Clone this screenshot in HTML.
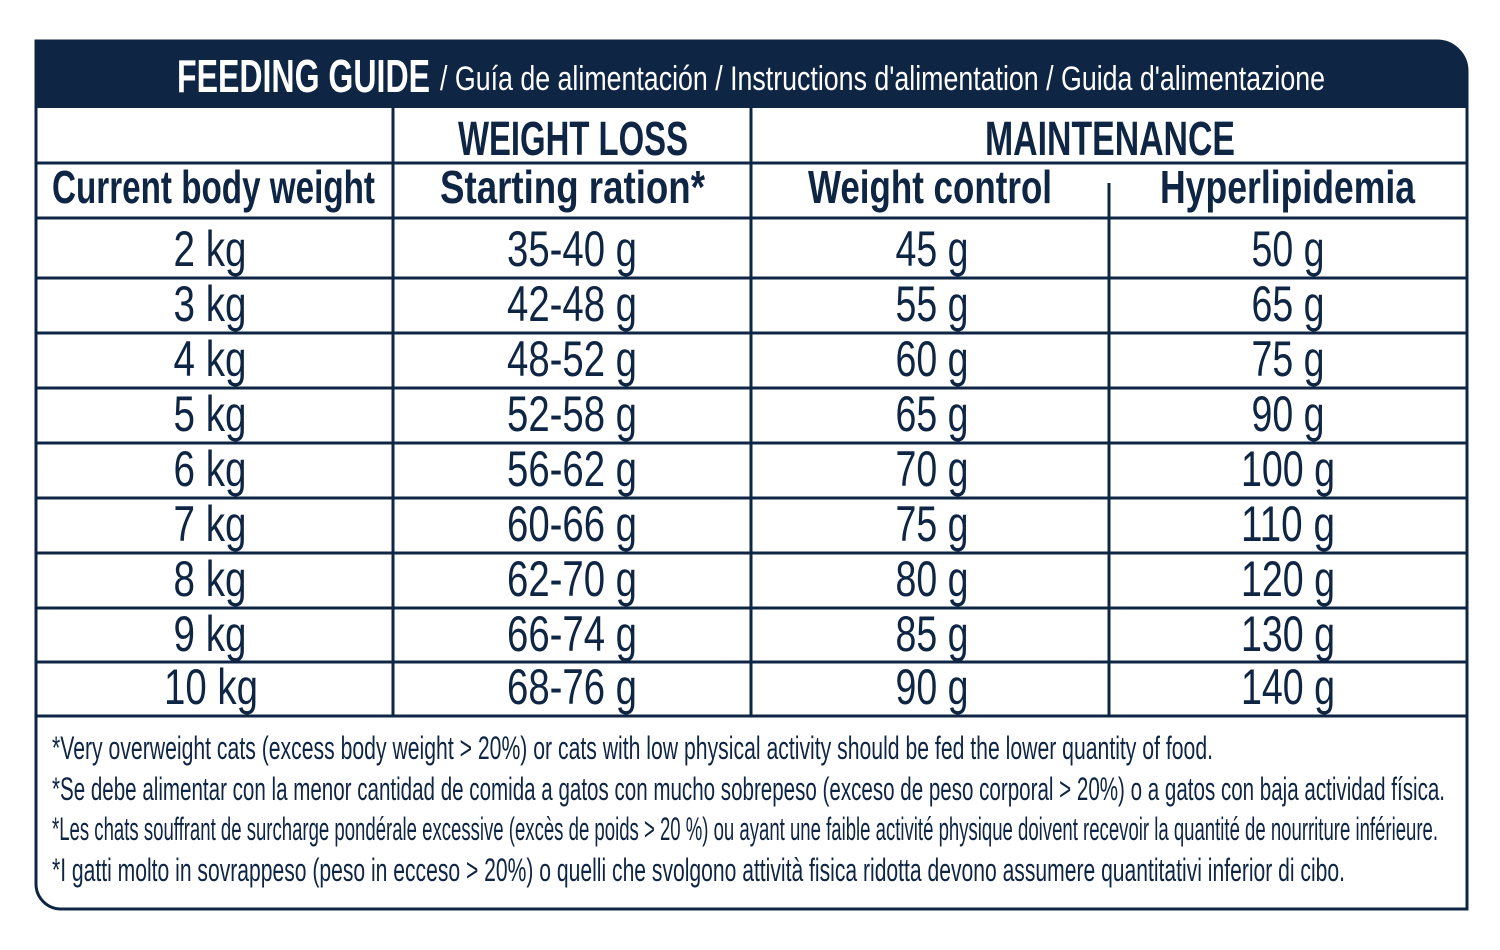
<!DOCTYPE html>
<html><head><meta charset="utf-8"><style>
html,body{margin:0;padding:0;background:#fff;}
svg{display:block;}
text{font-family:"Liberation Sans Narrow","Liberation Sans",sans-serif;fill:#0f2544;}
.b{font-weight:bold;}
</style></head><body>
<svg width="1500" height="950" viewBox="0 0 1500 950" xmlns="http://www.w3.org/2000/svg">
<!-- outer -->
<path d="M36 41 H1437 A30 30 0 0 1 1467 71 V909 H61 A25 25 0 0 1 36 884 Z" fill="#fff" stroke="#0f2544" stroke-width="3"/>
<path d="M35 40 H1437 A31 31 0 0 1 1468 71 V108 H35 Z" fill="#0f2544"/>
<g stroke="#0f2544" stroke-width="3">
<line x1="35" y1="163" x2="1467" y2="163"/>
<line x1="35" y1="218" x2="1467" y2="218"/>
<line x1="35" y1="278" x2="1467" y2="278"/>
<line x1="35" y1="333" x2="1467" y2="333"/>
<line x1="35" y1="388" x2="1467" y2="388"/>
<line x1="35" y1="443" x2="1467" y2="443"/>
<line x1="35" y1="498" x2="1467" y2="498"/>
<line x1="35" y1="553" x2="1467" y2="553"/>
<line x1="35" y1="608" x2="1467" y2="608"/>
<line x1="35" y1="662" x2="1467" y2="662"/>
<line x1="35" y1="716" x2="1467" y2="716"/>
<line x1="393" y1="108" x2="393" y2="716"/>
<line x1="751" y1="108" x2="751" y2="716"/>
<line x1="1109" y1="183" x2="1109" y2="716"/>
</g>
<!-- title -->
<text x="177" y="92" class="b" font-size="46" style="fill:#fff" textLength="253" lengthAdjust="spacingAndGlyphs">FEEDING GUIDE</text>
<text x="440" y="90" font-size="34" style="fill:#fff" textLength="885" lengthAdjust="spacingAndGlyphs">/ Guía de alimentación / Instructions d'alimentation / Guida d'alimentazione</text>
<!-- headers -->
<text x="458" y="155" class="b" font-size="48" textLength="230" lengthAdjust="spacingAndGlyphs">WEIGHT LOSS</text>
<text x="985" y="155" class="b" font-size="48" textLength="250" lengthAdjust="spacingAndGlyphs">MAINTENANCE</text>
<text x="52" y="203" class="b" font-size="46" textLength="323" lengthAdjust="spacingAndGlyphs">Current body weight</text>
<text x="440" y="203" class="b" font-size="46" textLength="265" lengthAdjust="spacingAndGlyphs">Starting ration*</text>
<text x="808" y="203" class="b" font-size="46" textLength="244" lengthAdjust="spacingAndGlyphs">Weight control</text>
<text x="1160" y="203" class="b" font-size="46" textLength="255" lengthAdjust="spacingAndGlyphs">Hyperlipidemia</text>
<!-- data -->
<g font-size="50" text-anchor="middle">
<text x="210" y="266" textLength="73" lengthAdjust="spacingAndGlyphs">2 kg</text>
<text x="572" y="266" textLength="130" lengthAdjust="spacingAndGlyphs">35-40 g</text>
<text x="932" y="266" textLength="73" lengthAdjust="spacingAndGlyphs">45 g</text>
<text x="1288" y="266" textLength="73" lengthAdjust="spacingAndGlyphs">50 g</text>

<text x="210" y="321" textLength="73" lengthAdjust="spacingAndGlyphs">3 kg</text>
<text x="572" y="321" textLength="130" lengthAdjust="spacingAndGlyphs">42-48 g</text>
<text x="932" y="321" textLength="73" lengthAdjust="spacingAndGlyphs">55 g</text>
<text x="1288" y="321" textLength="73" lengthAdjust="spacingAndGlyphs">65 g</text>

<text x="210" y="376" textLength="73" lengthAdjust="spacingAndGlyphs">4 kg</text>
<text x="572" y="376" textLength="130" lengthAdjust="spacingAndGlyphs">48-52 g</text>
<text x="932" y="376" textLength="73" lengthAdjust="spacingAndGlyphs">60 g</text>
<text x="1288" y="376" textLength="73" lengthAdjust="spacingAndGlyphs">75 g</text>

<text x="210" y="431" textLength="73" lengthAdjust="spacingAndGlyphs">5 kg</text>
<text x="572" y="431" textLength="130" lengthAdjust="spacingAndGlyphs">52-58 g</text>
<text x="932" y="431" textLength="73" lengthAdjust="spacingAndGlyphs">65 g</text>
<text x="1288" y="431" textLength="73" lengthAdjust="spacingAndGlyphs">90 g</text>

<text x="210" y="486" textLength="73" lengthAdjust="spacingAndGlyphs">6 kg</text>
<text x="572" y="486" textLength="130" lengthAdjust="spacingAndGlyphs">56-62 g</text>
<text x="932" y="486" textLength="73" lengthAdjust="spacingAndGlyphs">70 g</text>
<text x="1288" y="486" textLength="94" lengthAdjust="spacingAndGlyphs">100 g</text>

<text x="210" y="541" textLength="73" lengthAdjust="spacingAndGlyphs">7 kg</text>
<text x="572" y="541" textLength="130" lengthAdjust="spacingAndGlyphs">60-66 g</text>
<text x="932" y="541" textLength="73" lengthAdjust="spacingAndGlyphs">75 g</text>
<text x="1288" y="541" textLength="94" lengthAdjust="spacingAndGlyphs">110 g</text>

<text x="210" y="596" textLength="73" lengthAdjust="spacingAndGlyphs">8 kg</text>
<text x="572" y="596" textLength="130" lengthAdjust="spacingAndGlyphs">62-70 g</text>
<text x="932" y="596" textLength="73" lengthAdjust="spacingAndGlyphs">80 g</text>
<text x="1288" y="596" textLength="94" lengthAdjust="spacingAndGlyphs">120 g</text>

<text x="210" y="651" textLength="73" lengthAdjust="spacingAndGlyphs">9 kg</text>
<text x="572" y="651" textLength="130" lengthAdjust="spacingAndGlyphs">66-74 g</text>
<text x="932" y="651" textLength="73" lengthAdjust="spacingAndGlyphs">85 g</text>
<text x="1288" y="651" textLength="94" lengthAdjust="spacingAndGlyphs">130 g</text>

<text x="211" y="704" textLength="94" lengthAdjust="spacingAndGlyphs">10 kg</text>
<text x="572" y="704" textLength="130" lengthAdjust="spacingAndGlyphs">68-76 g</text>
<text x="932" y="704" textLength="73" lengthAdjust="spacingAndGlyphs">90 g</text>
<text x="1288" y="704" textLength="94" lengthAdjust="spacingAndGlyphs">140 g</text>
</g>
<!-- footnotes -->
<g font-size="32">
<text x="52" y="759" textLength="1161" lengthAdjust="spacingAndGlyphs">*Very overweight cats (excess body weight &gt; 20%) or cats with low physical activity should be fed the lower quantity of food.</text>
<text x="52" y="800" textLength="1393" lengthAdjust="spacingAndGlyphs">*Se debe alimentar con la menor cantidad de comida a gatos con mucho sobrepeso (exceso de peso corporal &gt; 20%) o a gatos con baja actividad física.</text>
<text x="52" y="840" textLength="1386" lengthAdjust="spacingAndGlyphs">*Les chats souffrant de surcharge pondérale excessive (excès de poids &gt; 20 %) ou ayant une faible activité physique doivent recevoir la quantité de nourriture inférieure.</text>
<text x="52" y="881" textLength="1293" lengthAdjust="spacingAndGlyphs">*I gatti molto in sovrappeso (peso in ecceso &gt; 20%) o quelli che svolgono attività fisica ridotta devono assumere quantitativi inferior di cibo.</text>
</g>
</svg>
</body></html>
